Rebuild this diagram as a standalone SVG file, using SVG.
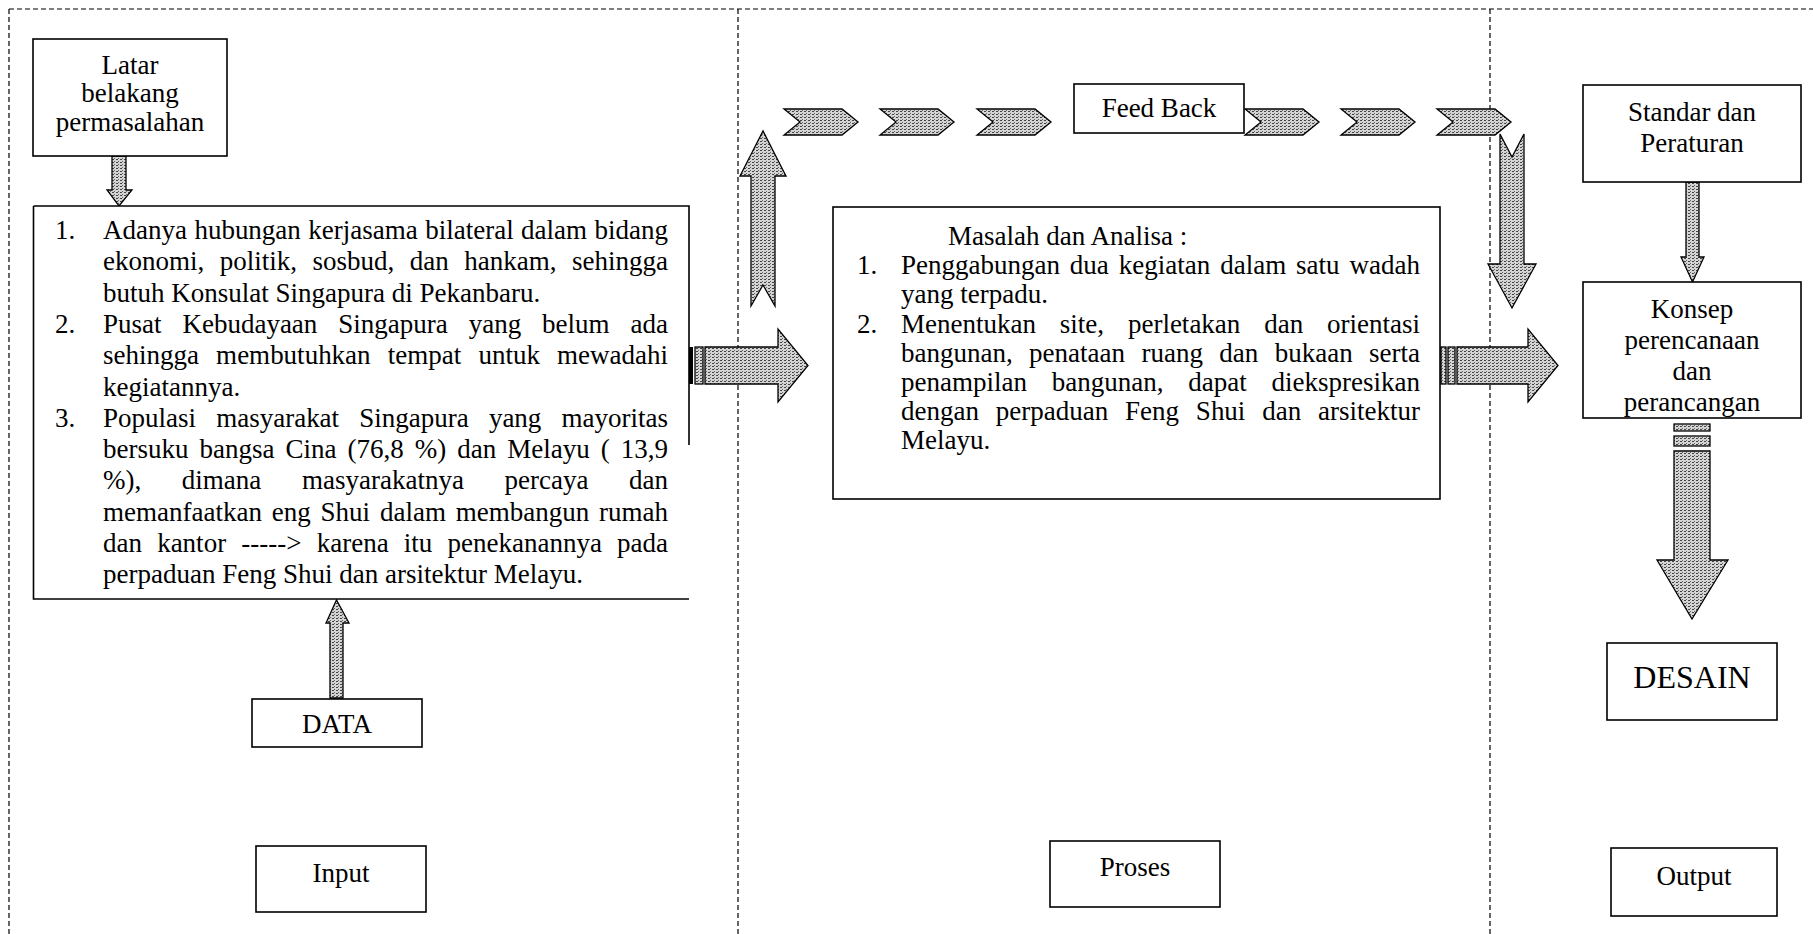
<svg xmlns="http://www.w3.org/2000/svg" width="1813" height="934" viewBox="0 0 1813 934">
<defs>
<pattern id="tex" width="4" height="3" patternUnits="userSpaceOnUse">
<rect width="4" height="3" fill="#d4d4d4"/>
<rect x="0" y="0" width="2" height="1" fill="#444"/>
<rect x="2" y="2" width="1" height="1" fill="#666"/>
</pattern>
<style>
.box{fill:#fff;stroke:#000;stroke-width:1.6}
.div{fill:none;stroke:#000;stroke-width:1.2;stroke-dasharray:5 3}
.arr{fill:url(#tex);stroke:#000;stroke-width:1.3;stroke-linejoin:miter}
.t{font-family:"Liberation Serif","Times New Roman",serif;font-size:27px;fill:#000}
.c{text-anchor:middle}
</style>
</defs>
<rect width="1813" height="934" fill="#fff"/>
<g id="frame">
<line class="div" x1="9" y1="9" x2="1813" y2="9"/>
<line class="div" x1="9" y1="9" x2="9" y2="934"/>
<line class="div" x1="738" y1="9" x2="738" y2="934"/>
<line class="div" x1="1490" y1="9" x2="1490" y2="934"/>
</g>
<g id="connectors">
<polygon class="arr" points="112,156 126,156 126,190 132,190 119,206 107,190 112,190"/>
<polygon class="arr" points="330,698 343,698 343,623 349,623 336.5,600 326,623 330,623"/>
<polygon class="arr" points="751,306 763,285 775,306 775,176 786,176 763,131 740,176 751,176"/>
<polygon class="arr" points="784,109 842,109 858,122 842,135 784,135 800,122"/>
<polygon class="arr" points="880,109 938,109 954,122 938,135 880,135 896,122"/>
<polygon class="arr" points="977,109 1035,109 1051,122 1035,135 977,135 993,122"/>
<polygon class="arr" points="1245,109 1303,109 1319,122 1303,135 1245,135 1261,122"/>
<polygon class="arr" points="1341,109 1399,109 1415,122 1399,135 1341,135 1357,122"/>
<polygon class="arr" points="1437,109 1495,109 1511,122 1495,135 1437,135 1453,122"/>
<polygon class="arr" points="1500,134 1512,157 1524,134 1524,264 1536,264 1512,308 1488,264 1500,264"/>
<rect x="688" y="347" width="5" height="37" fill="#000"/>
<rect class="arr" x="695" y="347" width="8" height="37"/>
<polygon class="arr" points="705,347 778,347 778,329 808,365.5 778,402 778,384 705,384"/>
<rect class="arr" x="1441" y="347" width="5" height="37"/>
<rect class="arr" x="1448" y="347" width="7" height="37"/>
<polygon class="arr" points="1457,347 1528,347 1528,329 1558,365.5 1528,402 1528,384 1457,384"/>
<polygon class="arr" points="1686,182 1699,182 1699,257 1704,257 1692.5,282 1681,257 1686,257"/>
<rect class="arr" x="1674" y="424" width="36" height="7"/>
<rect class="arr" x="1674" y="436" width="36" height="10"/>
<polygon class="arr" points="1674,451 1710,451 1710,560 1728,560 1692,619 1657,560 1674,560"/>
</g>
<g id="latar">
<rect class="box" x="33" y="39" width="194" height="117"/>
<text class="t c" x="130" y="74">Latar</text>
<text class="t c" x="130" y="102">belakang</text>
<text class="t c" x="130" y="131">permasalahan</text>
</g>
<g id="input-list">
<path d="M33.5,206 H689 V445 M689,599 H33.5 V206" fill="#fff" stroke="#000" stroke-width="1.6"/>
<text class="t" x="55" y="239">1.</text>
<text class="t" x="103" y="239" style="word-spacing:0.7px" textLength="565" lengthAdjust="spacing">Adanya hubungan kerjasama bilateral dalam bidang</text>
<text class="t" x="103" y="270" style="word-spacing:8.8px" textLength="565" lengthAdjust="spacing">ekonomi, politik, sosbud, dan hankam, sehingga</text>
<text class="t" x="103" y="302">butuh Konsulat Singapura di Pekanbaru.</text>
<text class="t" x="55" y="333">2.</text>
<text class="t" x="103" y="333" style="word-spacing:14.2px" textLength="565" lengthAdjust="spacing">Pusat Kebudayaan Singapura yang belum ada</text>
<text class="t" x="103" y="364" style="word-spacing:10.4px" textLength="565" lengthAdjust="spacing">sehingga membutuhkan tempat untuk mewadahi</text>
<text class="t" x="103" y="396">kegiatannya.</text>
<text class="t" x="55" y="427">3.</text>
<text class="t" x="103" y="427" style="word-spacing:13.4px" textLength="565" lengthAdjust="spacing">Populasi masyarakat Singapura yang mayoritas</text>
<text class="t" x="103" y="458" style="word-spacing:4.3px" textLength="565" lengthAdjust="spacing">bersuku bangsa Cina (76,8 %) dan Melayu ( 13,9</text>
<text class="t" x="103" y="489" style="word-spacing:33.8px" textLength="565" lengthAdjust="spacing">%), dimana masyarakatnya percaya dan</text>
<text class="t" x="103" y="521" style="word-spacing:3px" textLength="565" lengthAdjust="spacing">memanfaatkan eng Shui dalam membangun rumah</text>
<text class="t" x="103" y="552" style="word-spacing:8.4px" textLength="565" lengthAdjust="spacing">dan kantor -----&gt; karena itu penekanannya pada</text>
<text class="t" x="103" y="583">perpaduan Feng Shui dan arsitektur Melayu.</text>
</g>
<g id="data">
<rect class="box" x="252" y="699" width="170" height="48"/>
<text class="t c" x="337" y="733">DATA</text>
</g>
<g id="input">
<rect class="box" x="256" y="846" width="170" height="66"/>
<text class="t c" x="341" y="882">Input</text>
</g>
<g id="feedback">
<rect class="box" x="1074" y="84" width="170" height="49"/>
<text class="t c" x="1159" y="117">Feed Back</text>
</g>
<g id="analisa">
<rect class="box" x="833" y="207" width="607" height="292"/>
<text class="t" x="948" y="245">Masalah dan Analisa :</text>
<text class="t" x="857" y="274">1.</text>
<text class="t" x="901" y="274" style="word-spacing:3.2px" textLength="519" lengthAdjust="spacing">Penggabungan dua kegiatan dalam satu wadah</text>
<text class="t" x="901" y="303">yang terpadu.</text>
<text class="t" x="857" y="333">2.</text>
<text class="t" x="901" y="333" style="word-spacing:17.1px" textLength="519" lengthAdjust="spacing">Menentukan site, perletakan dan orientasi</text>
<text class="t" x="901" y="362" style="word-spacing:9.6px" textLength="519" lengthAdjust="spacing">bangunan, penataan ruang dan bukaan serta</text>
<text class="t" x="901" y="391" style="word-spacing:18px" textLength="519" lengthAdjust="spacing">penampilan bangunan, dapat diekspresikan</text>
<text class="t" x="901" y="420" style="word-spacing:10.1px" textLength="519" lengthAdjust="spacing">dengan perpaduan Feng Shui dan arsitektur</text>
<text class="t" x="901" y="449">Melayu.</text>
</g>
<g id="proses">
<rect class="box" x="1050" y="841" width="170" height="66"/>
<text class="t c" x="1135" y="876">Proses</text>
</g>
<g id="standar">
<rect class="box" x="1583" y="85" width="218" height="97"/>
<text class="t c" x="1692" y="121">Standar dan</text>
<text class="t c" x="1692" y="152">Peraturan</text>
</g>
<g id="konsep">
<rect class="box" x="1583" y="282" width="218" height="136"/>
<text class="t c" x="1692" y="318">Konsep</text>
<text class="t c" x="1692" y="349">perencanaan</text>
<text class="t c" x="1692" y="380">dan</text>
<text class="t c" x="1692" y="411">perancangan</text>
</g>
<g id="desain">
<rect class="box" x="1607" y="643" width="170" height="77"/>
<text class="t c" x="1692" y="688" style="font-size:32px">DESAIN</text>
</g>
<g id="output">
<rect class="box" x="1611" y="848" width="166" height="68"/>
<text class="t c" x="1694" y="885">Output</text>
</g>
</svg>
